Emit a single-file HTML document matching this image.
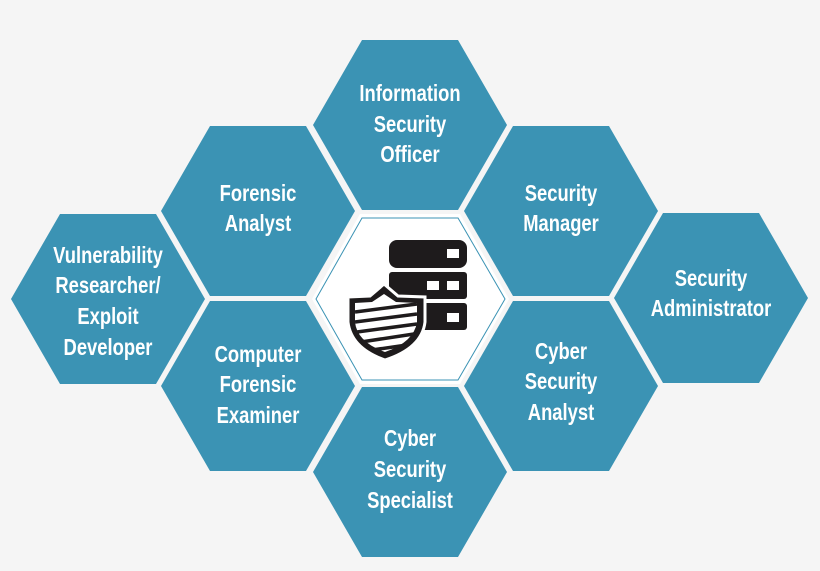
<!DOCTYPE html>
<html><head><meta charset="utf-8"><style>
html,body{margin:0;padding:0;background:#f5f5f5;}
svg{display:block}
text{font-family:"Liberation Sans",sans-serif;font-weight:bold;font-size:23px;fill:#fff;text-anchor:middle}
</style></head><body>
<svg width="820" height="571" viewBox="0 0 820 571" xmlns="http://www.w3.org/2000/svg">
<defs>
<polygon id="hx" points="-97,0 -48,-85 48,-85 97,0 48,85 -48,85"/>
</defs>
<rect width="820" height="571" fill="#f5f5f5"/>
<g fill="#3b93b4">
<use href="#hx" x="108" y="299"/>
<use href="#hx" x="258" y="211"/>
<use href="#hx" x="258" y="386"/>
<use href="#hx" x="410" y="125"/>
<use href="#hx" x="410" y="472"/>
<use href="#hx" x="561" y="211"/>
<use href="#hx" x="561" y="386"/>
<use href="#hx" x="711" y="298"/>
</g>
<polygon points="312,299 360,214 460,214 509,299 460,384 360,384" fill="#fff"/>
<polygon points="316,299 362,218 458,218 505,299 458,380 362,380" fill="none" stroke="#3b93b4" stroke-width="1"/>
<g fill="#1e1b1c">
<rect x="389" y="240" width="78" height="28" rx="8"/>
<rect x="389" y="272" width="78" height="27" rx="3"/>
<rect x="389" y="303" width="78" height="27" rx="3"/>
</g>
<g fill="#fff">
<rect x="447" y="249" width="12" height="9"/>
<rect x="427" y="281" width="12" height="9"/>
<rect x="447" y="281" width="12" height="9"/>
<rect x="447" y="313" width="12" height="9"/>
</g>
<path d="M384,284 L398,296 L425,297 L425,322 Q422,348 385,360 Q351,348 348,322 L348,297 L370,296 Z" fill="#1e1b1c" stroke="#fff" stroke-width="3"/>
<path d="M384,294 L396,302 L417,303 L417,322 Q414,342 385,352 Q357,342 355,322 L355,303 L372,302 Z" fill="#fff"/>
<g stroke="#1e1b1c" stroke-width="3.5">
<line x1="355" y1="312" x2="417" y2="304"/>
<line x1="355" y1="322" x2="417" y2="314"/>
<line x1="357" y1="332" x2="417" y2="324"/>
<line x1="361" y1="342" x2="414" y2="334"/>
<line x1="372" y1="350" x2="407" y2="345"/>
</g>
<g transform="translate(410,0) scale(0.8,1)"><text x="0" y="101">Information</text><text x="0" y="132">Security</text><text x="0" y="162">Officer</text></g>
<g transform="translate(258,0) scale(0.8,1)"><text x="0" y="201">Forensic</text><text x="0" y="231">Analyst</text></g>
<g transform="translate(561,0) scale(0.8,1)"><text x="0" y="201">Security</text><text x="0" y="231">Manager</text></g>
<g transform="translate(108,0) scale(0.8,1)"><text x="0" y="263">Vulnerability</text><text x="0" y="293">Researcher/</text><text x="0" y="324">Exploit</text><text x="0" y="355">Developer</text></g>
<g transform="translate(711,0) scale(0.8,1)"><text x="0" y="286">Security</text><text x="0" y="316">Administrator</text></g>
<g transform="translate(258,0) scale(0.8,1)"><text x="0" y="362">Computer</text><text x="0" y="392">Forensic</text><text x="0" y="423">Examiner</text></g>
<g transform="translate(561,0) scale(0.8,1)"><text x="0" y="359">Cyber</text><text x="0" y="389">Security</text><text x="0" y="420">Analyst</text></g>
<g transform="translate(410,0) scale(0.8,1)"><text x="0" y="446">Cyber</text><text x="0" y="477">Security</text><text x="0" y="508">Specialist</text></g>
</svg>
</body></html>
